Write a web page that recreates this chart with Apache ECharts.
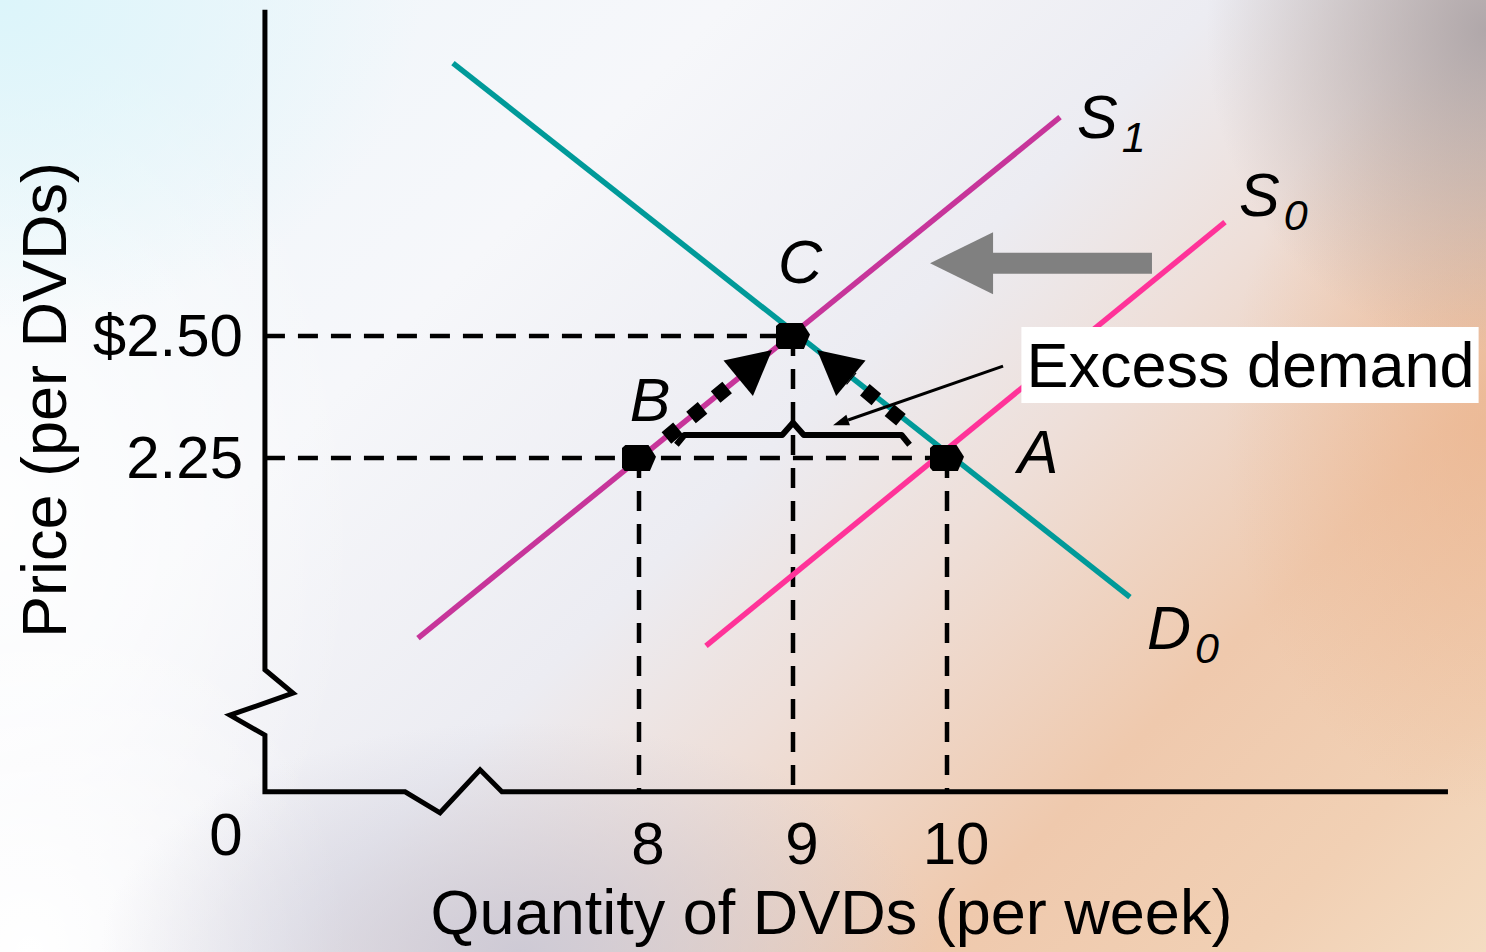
<!DOCTYPE html>
<html>
<head>
<meta charset="utf-8">
<script src="https://cdn.jsdelivr.net/npm/echarts@6/dist/echarts.min.js"></script>
<style>
html,body{margin:0;padding:0;width:1486px;height:952px;overflow:hidden;background:#f6f6f8;}
#bg{position:absolute;left:0;top:0;width:1486px;height:952px;
 background:
  radial-gradient(ellipse 280px 320px at 1486px 30px, rgba(165,158,162,0.85), rgba(175,168,170,0) 100%),
  radial-gradient(ellipse 420px 330px at 0px 0px, rgba(220,245,250,1), rgba(225,246,250,0) 100%),
  radial-gradient(ellipse 420px 230px at 520px 952px, rgba(200,198,212,0.85), rgba(205,205,215,0) 100%),
  radial-gradient(ellipse 320px 360px at 30px 952px, rgba(255,255,255,1), rgba(255,255,255,0) 100%),
  radial-gradient(ellipse 360px 520px at 0px 520px, rgba(255,255,255,0.9), rgba(255,255,255,0) 100%),
  radial-gradient(ellipse 260px 380px at 1486px 430px, rgba(234,176,136,0.6), rgba(234,176,136,0) 100%),
  linear-gradient(135deg, #eef6fa 0%, #f6f7fa 30%, #ececf2 50%, #eedfd9 61%, #efc9ad 77%, #f1d0b4 90%, #f4dcc2 100%);}
#chart{position:absolute;left:0;top:0;width:1486px;height:952px;}
</style>
</head>
<body>
<div id="bg"></div>
<div id="chart"></div>
<script>
// ---------------- data (quantity of DVDs per week, price in $) ----------------
const xTickValues = [8, 9, 10];
const yTickValues = [2.25, 2.5];
const yTickLabels = ['2.25', '$2.50'];

const demandD0 = [[6.792, 3.059], [11.188, 1.965]];
const supplyS1 = [[6.565, 1.881], [10.734, 2.948]];
const supplyS0 = [[8.435, 1.865], [11.805, 2.733]];

const pointB = [8, 2.25];
const pointC = [9, 2.5];
const pointA = [10, 2.25];

// broken axes frame (value space)
const axisOriginQ = 5.571;
const axisOriginP = 1.566;
const axisFrame = [[5.571, 3.168], [5.571, 1.816], [5.753, 1.768], [5.344, 1.723], [5.571, 1.682],
                   [5.571, 1.566], [6.481, 1.566], [6.708, 1.523], [6.968, 1.611], [7.110, 1.566], [13.253, 1.566]];

// movement arrows and annotations
const moveBtoC = [[8.178, 2.291], [8.864, 2.471]];
const moveAtoC = [[9.701, 2.328], [9.156, 2.471]];
const supplyShift = [[11.331, 2.649], [9.890, 2.649]];
const excessBrace = [[8.243, 2.277], [8.295, 2.297], [8.93, 2.297], [9.0, 2.322], [9.07, 2.297], [9.705, 2.297], [9.757, 2.277]];
const excessPointer = [[10.364, 2.438], [9.260, 2.317]];

// ---------------- chart ----------------
const FONT = "'Liberation Sans', Arial, Helvetica, sans-serif";
const chart = echarts.init(document.getElementById('chart'), null, {renderer: 'svg', width: 1486, height: 952});

function near(a, b) { return Math.abs(a - b) < 1e-6; }

function lineSeries(name, data, style, z) {
  return {
    type: 'line', name: name, data: data, symbol: 'none', silent: true, animation: false,
    clip: false, z: z || 2,
    lineStyle: Object.assign({color: '#000', width: 5, cap: 'butt', join: 'miter'}, style || {})
  };
}

function arrowSeries(name, segs, o) {
  return {
    type: 'custom', name: name, coordinateSystem: 'cartesian2d', silent: true, animation: false,
    z: o.z || 6, clip: false,
    data: segs.map(function (s) { return [s[0][0], s[0][1], s[1][0], s[1][1]]; }),
    encode: {x: [0, 2], y: [1, 3]},
    renderItem: function (params, api) {
      const a = api.coord([api.value(0), api.value(1)]);
      const b = api.coord([api.value(2), api.value(3)]);
      const dx = b[0] - a[0], dy = b[1] - a[1], L = Math.hypot(dx, dy);
      const ux = dx / L, uy = dy / L, nx = -uy, ny = ux;
      const base = [b[0] - ux * o.headLen, b[1] - uy * o.headLen];
      const hw = o.headWidth / 2;
      const children = [];
      if (o.solidShaft) {
        const sw = o.shaftWidth / 2;
        const e = [base[0] + ux * 2, base[1] + uy * 2];
        children.push({type: 'polygon', shape: {points: [
          [a[0] + nx * sw, a[1] + ny * sw], [e[0] + nx * sw, e[1] + ny * sw],
          [e[0] - nx * sw, e[1] - ny * sw], [a[0] - nx * sw, a[1] - ny * sw]]},
          style: {fill: o.color}});
      } else {
        children.push({type: 'line', shape: {x1: a[0], y1: a[1], x2: base[0], y2: base[1]},
          style: {stroke: o.color, lineWidth: o.shaftWidth, lineDash: o.dash || null, lineCap: 'butt', fill: null}});
      }
      children.push({type: 'polygon', shape: {points: [
        [b[0], b[1]], [base[0] + nx * hw, base[1] + ny * hw], [base[0] - nx * hw, base[1] - ny * hw]]},
        style: {fill: o.color}});
      return {type: 'group', children: children};
    }
  };
}

const italicLabel = {show: true, position: 'inside', color: '#000', fontFamily: FONT, fontSize: 61, fontStyle: 'italic'};
const subRich = {
  s: {fontSize: 61, fontStyle: 'italic', fontFamily: FONT, color: '#000', lineHeight: 60},
  sub: {fontSize: 43, fontStyle: 'italic', fontFamily: FONT, color: '#000', lineHeight: 44, padding: [40, 0, 0, 4]}
};

const dashStyle = {color: '#000', width: 4.5, type: [20, 13]};

const option = {
  backgroundColor: 'transparent',
  animation: false,
  grid: {left: 177, top: 4, width: 1309, height: 820, containLabel: false, outerBoundsMode: 'none'},
  xAxis: {
    type: 'value', min: 5, max: 13.5, interval: 1, offset: -32,
    axisLine: {show: false}, axisTick: {show: false}, splitLine: {show: false},
    axisLabel: {
      fontSize: 60, color: '#000', fontFamily: FONT, margin: 21, padding: [0, 0, 0, 18],
      formatter: function (v) { return xTickValues.some(function (t) { return near(t, v); }) ? String(v) : ''; }
    },
    name: 'Quantity of DVDs (per week)', nameLocation: 'middle', nameGap: 88,
    nameTextStyle: {fontSize: 63, color: '#000', fontFamily: FONT}
  },
  yAxis: {
    type: 'value', min: 1.5, max: 3.18, interval: 0.25, offset: -88,
    axisLine: {show: false}, axisTick: {show: false}, splitLine: {show: false},
    axisLabel: {
      fontSize: 60, color: '#000', fontFamily: FONT, margin: 22,
      formatter: function (v) {
        for (let i = 0; i < yTickValues.length; i++) { if (near(yTickValues[i], v)) return yTickLabels[i]; }
        return '';
      }
    },
    name: 'Price (per DVDs)', nameLocation: 'middle', nameGap: 190,
    nameTextStyle: {fontSize: 63, color: '#000', fontFamily: FONT, padding: [0, 0, 0, 28]}
  },
  series: [
    // guide lines
    lineSeries('guide C price', [[axisOriginQ, pointC[1]], pointC], dashStyle, 1),
    lineSeries('guide A price', [[axisOriginQ, pointA[1]], pointA], dashStyle, 1),
    lineSeries('guide B qty', [pointB, [pointB[0], axisOriginP]], dashStyle, 1),
    lineSeries('guide C qty', [pointC, [pointC[0], axisOriginP]], dashStyle, 1),
    lineSeries('guide A qty', [pointA, [pointA[0], axisOriginP]], dashStyle, 1),
    // axes with breaks
    lineSeries('axes', axisFrame, {width: 5}, 3),
    // curves
    lineSeries('D0', demandD0, {color: '#009a99', width: 5.5}, 4),
    lineSeries('S1', supplyS1, {color: '#c7359a', width: 5.5}, 4),
    lineSeries('S0', supplyS0, {color: '#ff3399', width: 5.5}, 4),
    // excess demand brace
    lineSeries('excess brace', excessBrace, {width: 6, join: 'round'}, 5),
    // movement arrows
    arrowSeries('moves', [moveBtoC, moveAtoC], {color: '#000', shaftWidth: 15, dash: [15, 17], headLen: 44, headWidth: 46, z: 7}),
    arrowSeries('pointer', [excessPointer], {color: '#000', shaftWidth: 3, headLen: 16, headWidth: 11, z: 7}),
    arrowSeries('supply shift', [supplyShift], {color: '#808080', solidShaft: true, shaftWidth: 21, headLen: 63, headWidth: 62, z: 7}),
    // equilibrium markers
    {
      type: 'scatter', name: 'points', silent: true, animation: false, z: 8,
      symbol: 'path://M10,0 L78,0 L100,45 L82,100 L8,100 L0,88 L0,12 Z', symbolSize: [34, 26],
      itemStyle: {color: '#000', opacity: 1},
      data: [pointB, pointC, pointA]
    },
    // text annotations
    {
      type: 'scatter', name: 'labels', silent: true, animation: false, z: 20,
      symbolSize: 1, itemStyle: {color: 'rgba(0,0,0,0)', opacity: 1},
      data: [
        {value: pointC, label: Object.assign({}, italicLabel, {formatter: 'C', offset: [7, -74]})},
        {value: pointB, label: Object.assign({}, italicLabel, {formatter: 'B', offset: [11, -58]})},
        {value: pointA, label: Object.assign({}, italicLabel, {formatter: 'A', offset: [91, -6]})},
        {value: supplyS1[1], label: {show: true, position: 'inside', align: 'left', verticalAlign: 'middle', formatter: '{s|S}{sub|1}', rich: subRich, offset: [17, 0]}},
        {value: supplyS0[1], label: {show: true, position: 'inside', align: 'left', verticalAlign: 'middle', formatter: '{s|S}{sub|0}', rich: subRich, offset: [14, -27]}},
        {value: demandD0[1], label: {show: true, position: 'inside', align: 'left', verticalAlign: 'middle', formatter: '{s|D}{sub|0}', rich: subRich, offset: [17, 31]}},
        {value: [axisOriginQ, axisOriginP], label: {show: true, position: 'inside', formatter: '0', color: '#000', fontFamily: FONT, fontSize: 60, offset: [-39, 43]}},
        {value: [9, 2.25], label: {show: true, position: 'inside', formatter: 'Excess demand', color: '#000', fontFamily: FONT, fontSize: 63,
          backgroundColor: '#ffffff', padding: [6, 4, 6, 5], lineHeight: 64, offset: [457, -93]}}
      ]
    }
  ]
};
chart.setOption(option);
</script>
</body>
</html>
